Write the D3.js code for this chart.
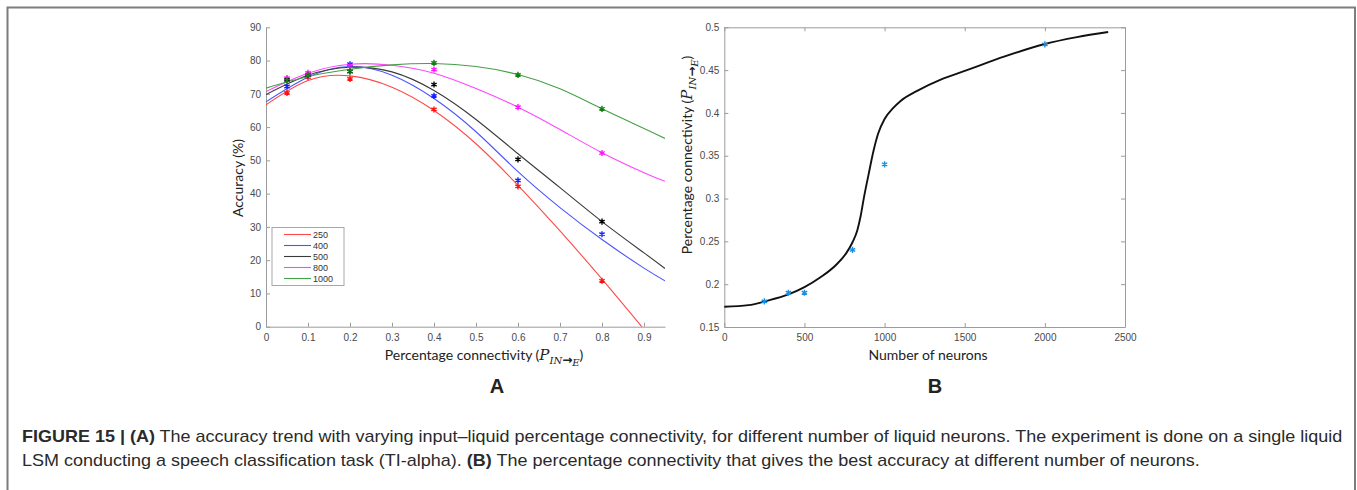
<!DOCTYPE html>
<html>
<head>
<meta charset="utf-8">
<script src="https://cdn.jsdelivr.net/npm/d3@7"></script>
<style>
  html, body { margin: 0; padding: 0; background: #fff; }
  svg { display: block; }
</style>
</head>
<body>
<svg id="fig" width="1357" height="490"></svg>
<script>
// ---------- Panel A: accuracy vs. input-liquid connectivity ----------
const connX = [0.05, 0.1, 0.2, 0.4, 0.6, 0.8];
const acc250  = [70.3, 75.0, 74.5, 65.3, 42.2, 13.8];
const acc400  = [72.2, 75.5, 78.9, 69.4, 44.0, 27.8];
const acc500  = [74.3, 75.7, 76.7, 72.8, 50.3, 31.6];
const acc800  = [74.7, 76.3, 78.3, 77.3, 66.0, 52.2];
const acc1000 = [74.0, 75.7, 76.8, 79.3, 75.7, 65.5];

// fitted trend lines, sampled along the connectivity axis
const fitX    = [0, 0.1, 0.2, 0.3, 0.4, 0.5, 0.6, 0.7, 0.8, 0.9, 0.95];
const fit250  = [66.7, 74.0, 75.4, 72.0, 65.0, 55.0, 42.5, 28.8, 14.3, -0.8, -8.5];
const fit400  = [67.6, 75.0, 78.2, 75.6, 68.6, 58.6, 46.6, 35.8, 26.2, 17.6, 13.8];
const fit500  = [69.8, 75.6, 78.0, 76.6, 71.0, 62.3, 52.0, 41.8, 31.6, 22.2, 17.5];
const fit800  = [70.7, 76.2, 78.9, 78.6, 76.2, 71.6, 66.0, 59.3, 52.3, 46.3, 43.7];
const fit1000 = [71.7, 75.2, 77.4, 78.7, 79.1, 78.2, 75.8, 71.5, 65.5, 59.6, 56.6];

const seriesNames  = ["250", "400", "500", "800", "1000"];
const lineColors   = ["#ff4a4a", "#4a55ff", "#3a3a3a", "#ff45ff", "#46a046"];
const markerColors = ["#ff1010", "#1020ff", "#000000", "#ff10ff", "#108010"];

const accTicksX = [0, 0.1, 0.2, 0.3, 0.4, 0.5, 0.6, 0.7, 0.8, 0.9];
const accTicksY = [0, 10, 20, 30, 40, 50, 60, 70, 80, 90];

// ---------- Panel B: best connectivity vs. number of neurons ----------
const neurons  = [250, 400, 500, 800, 1000, 2000];
const bestConn = [0.18, 0.19, 0.19, 0.24, 0.34, 0.48];

const trendN = [0, 150, 265, 400, 500, 600, 700, 760, 800, 830, 850, 870, 900, 930, 960, 1000, 1050, 1100, 1200, 1350, 1500, 1750, 2000, 2200, 2395];
const trendP = [0.1736, 0.1755, 0.1805, 0.188, 0.1965, 0.208, 0.223, 0.236, 0.249, 0.263, 0.279, 0.300, 0.328, 0.355, 0.376, 0.393, 0.405, 0.414, 0.4255, 0.439, 0.449, 0.466, 0.4805, 0.4885, 0.4945];

const nTicksX = [0, 500, 1000, 1500, 2000, 2500];
const nTicksY = [0.15, 0.2, 0.25, 0.3, 0.35, 0.4, 0.45, 0.5];

const captionLine1 = [
  {t: "FIGURE 15 | (A)", b: true},
  {t: " The accuracy trend with varying input\u2013liquid percentage connectivity, for different number of liquid neurons. The experiment is done on a single liquid", b: false}
];
const captionLine2 = [
  {t: "LSM conducting a speech classification task (TI-alpha). ", b: false},
  {t: "(B)", b: true},
  {t: " The percentage connectivity that gives the best accuracy at different number of neurons.", b: false}
];

// ---------- drawing ----------
const svg = d3.select("#fig");
const AXIS = "#9c9c9c", TICKTXT = "#4a4a4a";
const tickFont = "'Liberation Sans', Arial, sans-serif";
const labelFont = "Lato, 'Open Sans', sans-serif";

// outer frame of the figure
svg.append("rect").attr("x", 7.5).attr("y", 7.5).attr("width", 1347.5).attr("height", 520)
  .attr("fill", "none").attr("stroke", "#7d7d7d").attr("stroke-width", 2);

function styleAxis(g) {
  g.select(".domain").attr("stroke", AXIS);
  g.selectAll(".tick line").attr("stroke", AXIS);
  g.selectAll(".tick text").attr("fill", TICKTXT).attr("font-family", tickFont).attr("font-size", 10);
}

// --- Panel A ---
const xA = d3.scaleLinear().domain([0, 0.95]).range([266, 665]);
const yA = d3.scaleLinear().domain([0, 90]).range([326.7, 27.3]);

svg.append("defs").append("clipPath").attr("id", "clipA")
  .append("rect").attr("x", xA(0)).attr("y", yA(90)).attr("width", xA(0.95) - xA(0)).attr("height", yA(0) - yA(90));

svg.append("g").attr("transform", `translate(0,${yA(0)})`)
  .call(d3.axisBottom(xA).tickValues(accTicksX).tickFormat(d3.format("~g")).tickSizeInner(-4).tickSizeOuter(0).tickPadding(7))
  .call(styleAxis);
svg.append("g").attr("transform", `translate(${xA(0)},0)`)
  .call(d3.axisLeft(yA).tickValues(accTicksY).tickSizeInner(-4).tickSizeOuter(0).tickPadding(5))
  .call(styleAxis);

const fits = [fit250, fit400, fit500, fit800, fit1000];
const accs = [acc250, acc400, acc500, acc800, acc1000];
const lineA = d3.line().x(d => xA(d[0])).y(d => yA(d[1])).curve(d3.curveNatural);

const gCurves = svg.append("g").attr("clip-path", "url(#clipA)");
fits.forEach((f, i) => {
  gCurves.append("path").datum(fitX.map((x, k) => [x, f[k]]))
    .attr("d", lineA).attr("fill", "none").attr("stroke", lineColors[i]).attr("stroke-width", 1.1);
});
const star = d3.symbol(d3.symbolAsterisk, 26);
accs.forEach((a, i) => {
  svg.append("g").selectAll("path").data(connX.map((x, k) => [x, a[k]])).join("path")
    .attr("transform", d => `translate(${xA(d[0])},${yA(d[1])})`)
    .attr("d", star).attr("fill", "none").attr("stroke", markerColors[i]).attr("stroke-width", 1.4);
});

// legend
const lg = svg.append("g").attr("transform", "translate(272,227.5)");
lg.append("rect").attr("width", 72).attr("height", 58).attr("fill", "#fff").attr("stroke", "#a8a8a8").attr("stroke-width", 1);
seriesNames.forEach((n, i) => {
  const y = 7 + i * 11;
  lg.append("line").attr("x1", 12).attr("x2", 39).attr("y1", y).attr("y2", y)
    .attr("stroke", lineColors[i]).attr("stroke-width", 1.1);
  lg.append("text").attr("x", 41).attr("y", y + 3.3).text(n)
    .attr("font-family", tickFont).attr("font-size", 9).attr("fill", "#333");
});

// axis titles for A
svg.append("text").attr("transform", `translate(243,178) rotate(-90)`).attr("text-anchor", "middle")
  .attr("font-family", labelFont).attr("font-size", 14).attr("fill", "#222").text("Accuracy (%)");

function connectivityLabel(sel) {
  sel.attr("font-family", labelFont).attr("font-size", 14).attr("fill", "#222");
  sel.append("tspan").text("Percentage connectivity (");
  sel.append("tspan").text("P").attr("font-family", "'DejaVu Serif', serif").attr("font-style", "italic").attr("font-size", 15);
  sel.append("tspan").text("IN").attr("font-family", "'DejaVu Serif', serif").attr("font-style", "italic").attr("font-size", 10).attr("dy", 4);
  sel.append("tspan").text("\u2192").attr("font-family", "'DejaVu Sans', sans-serif").attr("font-weight", "bold").attr("font-size", 12);
  sel.append("tspan").text("E").attr("font-family", "'DejaVu Serif', serif").attr("font-style", "italic").attr("font-size", 10).attr("dy", 2);
  sel.append("tspan").text(")").attr("dy", -6);
}
svg.append("text").attr("x", 484).attr("y", 360).attr("text-anchor", "middle").call(connectivityLabel);

svg.append("text").attr("x", 497).attr("y", 393).attr("text-anchor", "middle")
  .attr("font-family", "'Liberation Sans', Arial, sans-serif").attr("font-weight", "bold").attr("font-size", 20).attr("fill", "#222").text("A");

// --- Panel B ---
const xB = d3.scaleLinear().domain([0, 2500]).range([724.3, 1125]);
const yB = d3.scaleLinear().domain([0.15, 0.5]).range([327, 27.3]);
const fmtB = d3.format("~g");

svg.append("g").attr("transform", `translate(0,${yB(0.15)})`)
  .call(d3.axisBottom(xB).tickValues(nTicksX).tickFormat(fmtB).tickSizeInner(-4).tickSizeOuter(0).tickPadding(7))
  .call(styleAxis);
svg.append("g").attr("transform", `translate(0,${yB(0.5)})`)
  .call(d3.axisTop(xB).tickValues(nTicksX).tickFormat("").tickSizeInner(-4).tickSizeOuter(0))
  .call(styleAxis);
svg.append("g").attr("transform", `translate(${xB(0)},0)`)
  .call(d3.axisLeft(yB).tickValues(nTicksY).tickFormat(fmtB).tickSizeInner(-4).tickSizeOuter(0).tickPadding(5))
  .call(styleAxis);
svg.append("g").attr("transform", `translate(${xB(2500)},0)`)
  .call(d3.axisRight(yB).tickValues(nTicksY).tickFormat("").tickSizeInner(-4).tickSizeOuter(0))
  .call(styleAxis);

const lineB = d3.line().x(d => xB(d[0])).y(d => yB(d[1])).curve(d3.curveMonotoneX);
svg.append("path").datum(trendN.map((n, k) => [n, trendP[k]]))
  .attr("d", lineB).attr("fill", "none").attr("stroke", "#111").attr("stroke-width", 1.9);

svg.append("g").selectAll("path").data(neurons.map((n, k) => [n, bestConn[k]])).join("path")
  .attr("transform", d => `translate(${xB(d[0])},${yB(d[1])})`)
  .attr("d", star).attr("fill", "none").attr("stroke", "#1c8ee0").attr("stroke-width", 1.4);

svg.append("text").attr("transform", `translate(691.5,155) rotate(-90)`).attr("text-anchor", "middle").call(connectivityLabel);
svg.append("text").attr("x", 928).attr("y", 360).attr("text-anchor", "middle")
  .attr("font-family", labelFont).attr("font-size", 14).attr("fill", "#222").text("Number of neurons");
svg.append("text").attr("x", 935).attr("y", 393).attr("text-anchor", "middle")
  .attr("font-family", "'Liberation Sans', Arial, sans-serif").attr("font-weight", "bold").attr("font-size", 20).attr("fill", "#222").text("B");

// --- caption: slightly condensed face, first line spans the frame ---
const capFont = "'Liberation Sans', Arial, sans-serif";
function captionLine(parts) {
  const t = svg.append("text").attr("x", 0).attr("y", 0)
    .attr("font-family", capFont).attr("font-size", 16).attr("fill", "#2a2a2a");
  parts.forEach(p => t.append("tspan").text(p.t).attr("font-weight", p.b ? "bold" : "normal"));
  return t;
}
const c1 = captionLine(captionLine1);
const c2 = captionLine(captionLine2);
const sx = (1343 - 22) / c1.node().getComputedTextLength();
c1.attr("transform", `translate(22,442) scale(${sx},1)`);
c2.attr("transform", `translate(22,466) scale(${sx},1)`);
</script>
</body>
</html>
